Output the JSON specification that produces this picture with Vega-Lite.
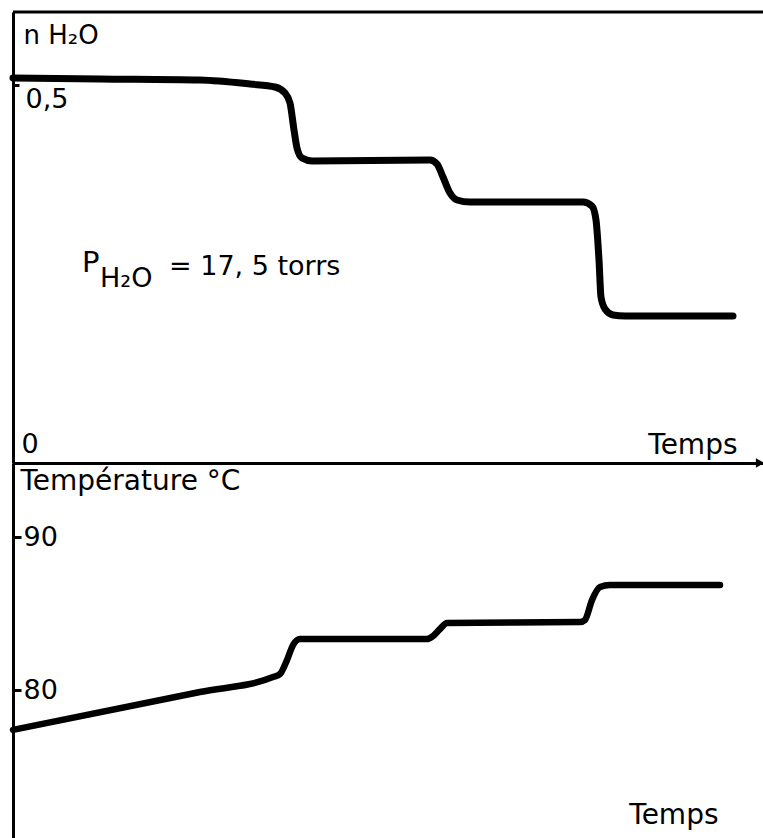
{
  "$schema": "https://vega.github.io/schema/vega-lite/v6.json",
  "padding": {"left": 9, "top": 10, "right": 0, "bottom": 0},
  "spacing": 0,
  "bounds": "flush",
  "config": {
    "view": {"stroke": null},
    "font": "DejaVu Sans",
    "axis": {"grid": false, "domainColor": "black", "tickColor": "black", "labelColor": "black", "titleColor": "black", "titleFontWeight": "normal"}
  },
  "datasets": {
    "water": [
      {"t": 0, "n": 0.5093}, {"t": 87, "n": 0.5080}, {"t": 187, "n": 0.5066}, {"t": 237, "n": 0.5013},
      {"t": 262, "n": 0.4974}, {"t": 272, "n": 0.4894}, {"t": 277, "n": 0.4762}, {"t": 281, "n": 0.4405},
      {"t": 284, "n": 0.4167}, {"t": 289, "n": 0.4034}, {"t": 299, "n": 0.3995}, {"t": 417, "n": 0.4008},
      {"t": 424, "n": 0.3955}, {"t": 430, "n": 0.3783}, {"t": 437, "n": 0.3571}, {"t": 444, "n": 0.3479},
      {"t": 457, "n": 0.3452}, {"t": 570, "n": 0.3452}, {"t": 579, "n": 0.3399}, {"t": 583, "n": 0.3214},
      {"t": 586, "n": 0.2685}, {"t": 588, "n": 0.2196}, {"t": 592, "n": 0.2037}, {"t": 600, "n": 0.1958},
      {"t": 612, "n": 0.1944}, {"t": 720, "n": 0.1944}
    ],
    "temp": [
      {"t": 0, "T": 77.40}, {"t": 187, "T": 79.87}, {"t": 260, "T": 80.85}, {"t": 267, "T": 81.05},
      {"t": 274, "T": 81.96}, {"t": 280, "T": 82.94}, {"t": 287, "T": 83.33}, {"t": 414, "T": 83.33},
      {"t": 420, "T": 83.53}, {"t": 427, "T": 83.99}, {"t": 434, "T": 84.38}, {"t": 567, "T": 84.44},
      {"t": 572, "T": 84.58}, {"t": 579, "T": 85.88}, {"t": 587, "T": 86.73}, {"t": 597, "T": 86.86},
      {"t": 707, "T": 86.86}
    ],
    "one": [{"k": 1}]
  },
  "vconcat": [
    {
      "width": 750,
      "height": 451,
      "layer": [
        {
          "data": {"name": "water"},
          "mark": {"type": "line", "interpolate": "monotone", "strokeWidth": 7, "color": "black", "strokeCap": "round", "strokeJoin": "round"},
          "encoding": {
            "x": {
              "field": "t", "type": "quantitative",
              "scale": {"domain": [0, 750], "nice": false, "zero": false},
              "axis": {
                "title": "Temps", "titleFontSize": 28, "titleX": 724, "titleY": -10,
                "titleAlign": "right", "titleBaseline": "alphabetic", "titleAngle": 0,
                "labels": false, "ticks": false, "domainWidth": 3
              }
            },
            "y": {
              "field": "n", "type": "quantitative",
              "scale": {"domain": [0, 0.5966], "nice": false},
              "axis": {
                "values": [0, 0.5],
                "title": "n H₂O", "titleAngle": 0, "titleAlign": "left", "titleBaseline": "top",
                "titleX": 10, "titleY": 10, "titleFontSize": 26,
                "tickSize": -6, "tickWidth": 3,
                "labelExpr": "datum.value == 0 ? '0' : replace(format(datum.value, '.1f'), '.', ',')",
                "labelAlign": "left",
                "labelPadding": {"condition": {"test": "datum.value == 0", "value": -2}, "value": -6},
                "labelFontSize": 27,
                "labelBaseline": "alphabetic",
                "labelOffset": {"condition": {"test": "datum.value == 0", "value": -11}, "value": 22},
                "domainWidth": 3
              }
            }
          }
        },
        {
          "data": {"name": "one"},
          "mark": {"type": "rule", "strokeWidth": 3, "color": "black"},
          "encoding": {"y": {"datum": 0.5966}}
        },
        {
          "data": {"name": "one"},
          "mark": {"type": "point", "shape": "triangle-right", "filled": true, "size": 90, "color": "black", "opacity": 1},
          "encoding": {"x": {"datum": 747}, "y": {"datum": 0}}
        },
        {
          "data": {"name": "one"},
          "mark": {"type": "text", "text": "P", "fontSize": 29, "align": "left", "baseline": "alphabetic", "color": "black"},
          "encoding": {"x": {"datum": 69}, "y": {"datum": 0.2526}}
        },
        {
          "data": {"name": "one"},
          "mark": {"type": "text", "text": "H₂O", "fontSize": 27, "align": "left", "baseline": "alphabetic", "color": "black"},
          "encoding": {"x": {"datum": 87}, "y": {"datum": 0.2328}}
        },
        {
          "data": {"name": "one"},
          "mark": {"type": "text", "text": "= 17, 5  torrs", "fontSize": 27, "align": "left", "baseline": "alphabetic", "color": "black"},
          "encoding": {"x": {"datum": 156}, "y": {"datum": 0.2487}}
        }
      ]
    },
    {
      "width": 750,
      "height": 375,
      "data": {"name": "temp"},
      "mark": {"type": "line", "interpolate": "monotone", "strokeWidth": 6.5, "color": "black", "strokeCap": "round", "strokeJoin": "round"},
      "encoding": {
        "x": {
          "field": "t", "type": "quantitative",
          "scale": {"domain": [0, 750], "nice": false, "zero": false},
          "axis": {
            "title": "Temps", "titleFontSize": 28, "titleX": 705, "titleY": -15,
            "titleAlign": "right", "titleBaseline": "alphabetic", "titleAngle": 0,
            "labels": false, "ticks": false, "domain": false
          }
        },
        "y": {
          "field": "T", "type": "quantitative",
          "scale": {"domain": [70.33, 94.84], "nice": false, "zero": false},
          "axis": {
            "values": [80, 90],
            "title": "Température °C", "titleAngle": 0, "titleAlign": "left", "titleBaseline": "top",
            "titleX": 7, "titleY": 4, "titleFontSize": 28,
            "tickSize": -8, "tickWidth": 3,
            "labelAlign": "left", "labelPadding": -2, "labelFontSize": 27,
            "labelBaseline": "middle",
            "domainWidth": 3
          }
        }
      }
    }
  ]
}
